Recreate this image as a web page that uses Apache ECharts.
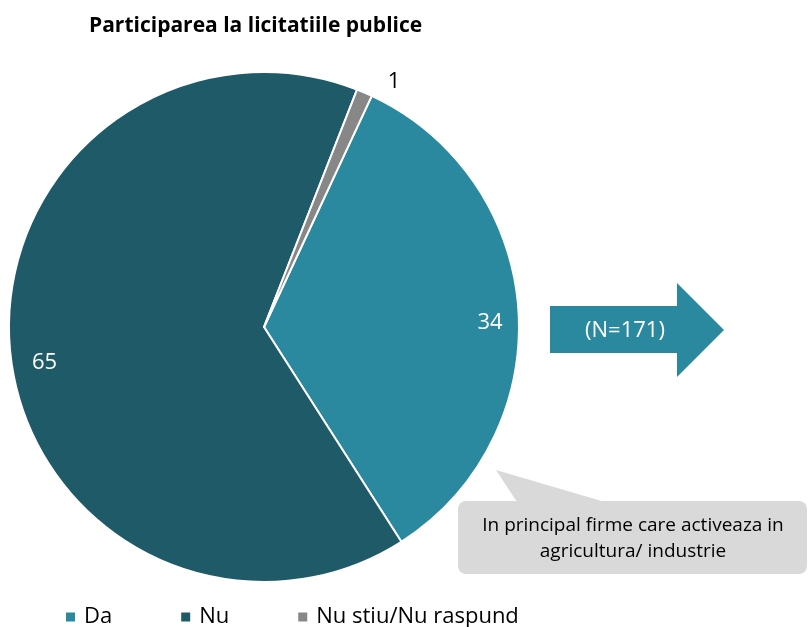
<!DOCTYPE html>
<html>
<head>
<meta charset="utf-8">
<script src="https://cdn.jsdelivr.net/npm/echarts@6/dist/echarts.min.js"></script>
<style>
  html, body { margin: 0; padding: 0; background: #fff; }
  #chart { width: 808px; height: 627px; }
</style>
</head>
<body>
<div id="chart"></div>
<script>
// date grafic
const categories = ['Da', 'Nu', 'Nu stiu/Nu raspund']
const values = [34, 65, 1]
const colors = ['#2A899E', '#1F5A69', '#878787']
const titleText = 'Participarea la licitatiile publice'
const arrowText = '(N=171)'
const noteText = 'In principal firme care activeaza in\nagricultura/ industrie'

const chart = echarts.init(document.getElementById('chart'))
const font = 'Open Sans'

const pieData = categories.map((name, i) => ({
  name,
  value: values[i],
  itemStyle: { color: colors[i] }
}))

// inel invizibil doar pentru etichete, aproape de margine (ca in Excel)
const labelOffsets = [[-4, 11], [10, 13], [16, -5]]
const labelData = categories.map((name, i) => {
  const item = {
    name,
    value: values[i],
    itemStyle: { color: 'transparent' },
    label: { offset: labelOffsets[i] }
  }
  if (values[i] < 5) {
    item.label = { position: 'outside', color: '#000', offset: labelOffsets[i] }
    item.labelLine = { show: false, length: 6, length2: 0 }
  }
  return item
})

const option = {
  backgroundColor: '#fff',
  animation: false,
  title: {
    text: titleText,
    left: 84,
    top: 11,
    textStyle: { fontFamily: font, fontWeight: 'bold', fontSize: 21, color: '#000' }
  },
  legend: {
    data: categories,
    left: 59,
    top: 601,
    itemWidth: 11,
    itemHeight: 11,
    itemGap: 67,
    icon: 'rect',
    textStyle: { fontFamily: font, fontSize: 22, color: '#000', padding: [0, 0, 0, 3] }
  },
  series: [
    {
      type: 'pie',
      center: [264, 327],
      radius: [0, 255],
      startAngle: 65,
      clockwise: true,
      label: { show: false },
      labelLine: { show: false },
      itemStyle: { borderColor: '#fff', borderWidth: 2 },
      data: pieData
    },
    {
      type: 'pie',
      center: [264, 327],
      radius: [200, 255],
      startAngle: 65,
      clockwise: true,
      silent: true,
      legendHoverLink: false,
      label: {
        show: true,
        position: 'inside',
        formatter: '{c}',
        fontFamily: font,
        fontSize: 22,
        color: '#fff'
      },
      labelLine: { show: false },
      data: labelData
    }
  ],
  graphic: [
    {
      type: 'polygon',
      shape: { points: [[550, 306], [677, 306], [677, 283], [724, 330], [677, 377], [677, 353], [550, 353]] },
      style: { fill: '#2A899E' }
    },
    {
      type: 'text',
      x: 625,
      y: 331,
      style: {
        text: arrowText,
        fill: '#fff',
        font: '22px "Open Sans"',
        align: 'center',
        verticalAlign: 'middle'
      }
    },
    {
      type: 'polygon',
      shape: { points: [[496, 470], [605, 502], [517, 502]] },
      style: { fill: '#D9D9D9' }
    },
    {
      type: 'rect',
      shape: { x: 458, y: 501, width: 349, height: 73, r: 8 },
      style: { fill: '#D9D9D9' }
    },
    {
      type: 'text',
      x: 633,
      y: 539,
      style: {
        text: noteText,
        fill: '#000',
        font: '19px "Open Sans"',
        align: 'center',
        verticalAlign: 'middle',
        lineHeight: 26
      }
    }
  ]
}

chart.setOption(option)
</script>
</body>
</html>
